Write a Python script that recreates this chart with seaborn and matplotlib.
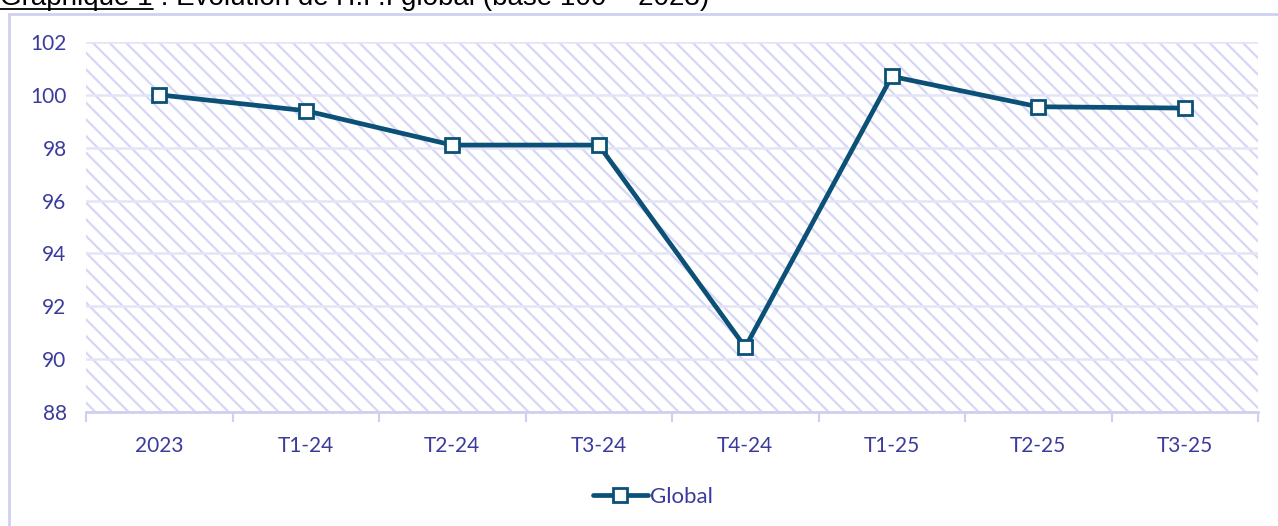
import matplotlib
matplotlib.use("Agg")
import matplotlib.pyplot as plt
from matplotlib.patches import Rectangle
from matplotlib.lines import Line2D
from matplotlib.ticker import FixedLocator
import pandas as pd
import seaborn as sns

periods = ["2023", "T1-24", "T2-24", "T3-24", "T4-24", "T1-25", "T2-25", "T3-25"]
ipi_global = [100.0, 99.4, 98.1, 98.1, 90.45, 100.7, 99.55, 99.5]
y_ticks = [88, 90, 92, 94, 96, 98, 100, 102]
title_part1 = "Graphique 1"
title_part2 = " : Evolution de l'I.P.I global (base 100 = 2023)"

LINE_C = "#0b5077"
TEXT_C = "#3b3b9e"
LAV = "#cfcff2"
HATCH_C = "#d6d6f5"
GRID_C = "#e4e4f8"

sns.set_theme(style="white")
plt.rcParams["font.family"] = ["Lato", "DejaVu Sans"]
plt.rcParams["hatch.linewidth"] = 1.6

df = pd.DataFrame({"periode": periods, "valeur": ipi_global})

fig = plt.figure(figsize=(12.78, 5.26), dpi=100)
ax = fig.add_axes([86 / 1278, 1 - 412 / 526, (1258 - 86) / 1278, (412 - 42) / 526])

# hatched plot background
ax.add_patch(Rectangle((0, 0), 1, 1, transform=ax.transAxes, facecolor="white",
                       edgecolor=HATCH_C, linewidth=0, hatch="\\\\", zorder=0))
ax.set_axisbelow(True)

sns.lineplot(data=df, x="periode", y="valeur", ax=ax, color=LINE_C, linewidth=3.4,
             marker="s", markersize=9.5, markerfacecolor="white",
             markeredgecolor=LINE_C, markeredgewidth=2.0, label="Global", sort=False)

ax.set_xlim(-0.5, len(periods) - 0.5)
ax.set_ylim(88, 102)
ax.set_yticks(y_ticks)
ax.yaxis.grid(True, color=GRID_C, linewidth=1.8)
ax.set_xlabel("")
ax.set_ylabel("")

ax.xaxis.set_minor_locator(FixedLocator([i - 0.5 for i in range(len(periods) + 1)]))
ax.tick_params(axis="x", which="major", length=0, pad=17, labelsize=15, labelcolor=TEXT_C)
ax.tick_params(axis="x", which="minor", bottom=True, length=7, width=1.5, color=LAV)
ax.tick_params(axis="y", length=0, pad=14, labelsize=15, labelcolor=TEXT_C)

for side in ["left", "right", "top"]:
    ax.spines[side].set_visible(False)
ax.spines["bottom"].set_color(LAV)
ax.spines["bottom"].set_linewidth(2)

leg = ax.legend(loc="center", bbox_to_anchor=(0.5 + 14 / 1278, 1 - 497 / 526),
                bbox_transform=fig.transFigure,
                frameon=False, fontsize=16, handlelength=2.5, handletextpad=0.1)
for t in leg.get_texts():
    t.set_color(TEXT_C)

# outer chart frame (cut by the image edges)
fig.add_artist(Line2D([9 / 1278, 9 / 1278], [0, 1 - 14 / 526], transform=fig.transFigure,
                      color=LAV, linewidth=2))
fig.add_artist(Line2D([9 / 1278, 1], [1 - 14 / 526, 1 - 14 / 526], transform=fig.transFigure,
                      color=LAV, linewidth=2))

# title, mostly cropped off at the top
t1 = fig.text(0.0, 1 - 5 / 526, title_part1, fontsize=20, family="Liberation Sans",
              color="black", va="baseline", ha="left")
fig.canvas.draw()
bb = t1.get_window_extent()
fig.text(bb.x1 / 1278, 1 - 5 / 526, title_part2, fontsize=20, family="Liberation Sans",
         color="black", va="baseline", ha="left")
fig.add_artist(Line2D([bb.x0 / 1278, bb.x1 / 1278], [1 - 8.5 / 526, 1 - 8.5 / 526],
                      transform=fig.transFigure, color="black", linewidth=1.3))

fig.savefig("out.png", dpi=100)
